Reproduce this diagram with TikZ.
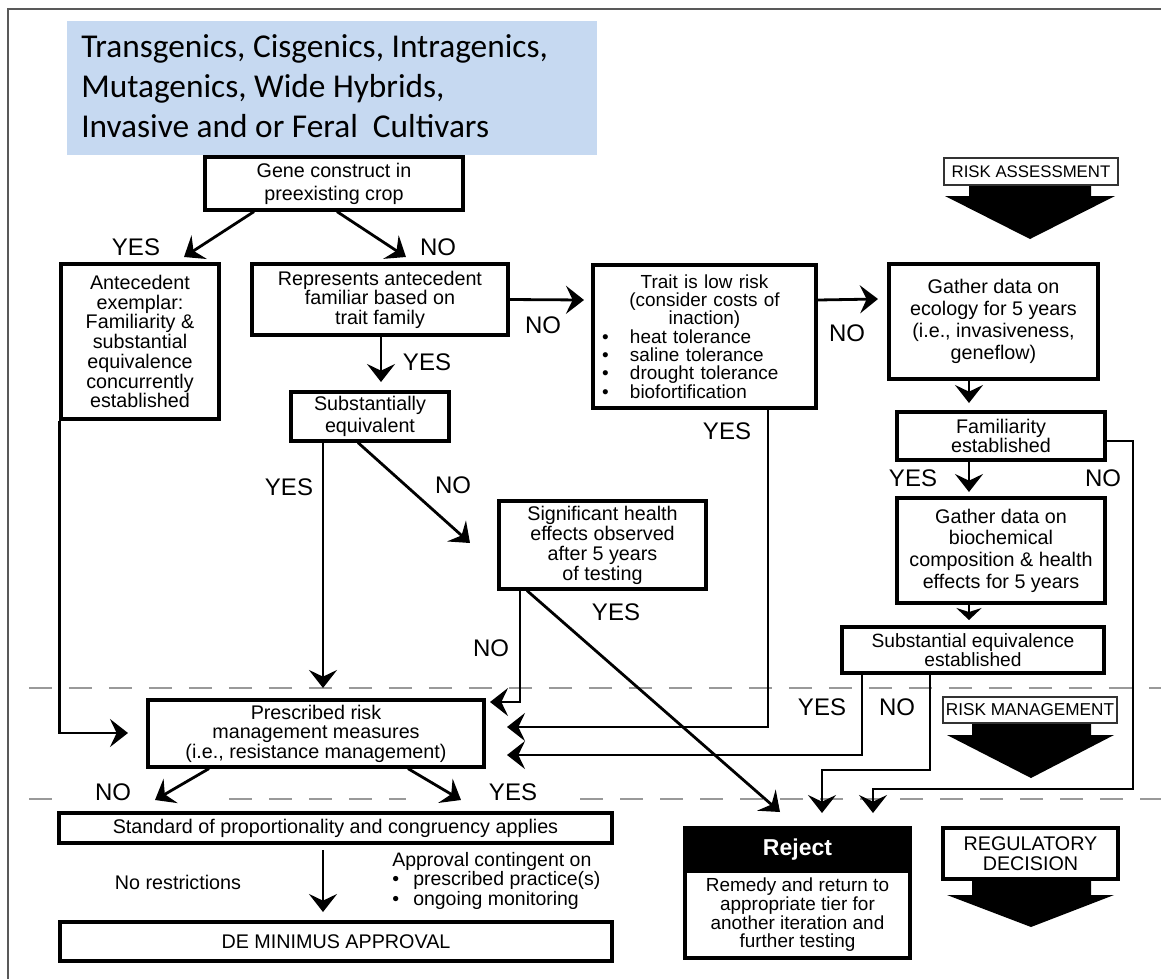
\documentclass[tikz,border=0pt]{standalone}
\usepackage{fontspec}
\setmainfont{Liberation Sans}
\newfontfamily\calibrifont{Carlito}
\usetikzlibrary{arrows.meta}
\definecolor{titleblue}{RGB}{198,217,241}

\begin{document}
\begin{tikzpicture}[x=0.75pt,y=0.75pt,yscale=-1,xscale=1,
  box/.style={draw, line width=2.4pt, inner sep=0pt, align=center, font=\fontsize{14.8pt}{#1}\selectfont},
  box/.default=15pt,
  arr/.style={line width=2.1pt, -{Stealth[length=13.5pt,width=21pt,inset=5pt]}},
  shortarr/.style={line width=2.1pt, -{Stealth[length=9pt,width=19pt,inset=3pt]}},
  lbl/.style={inner sep=0pt, font=\fontsize{18pt}{18pt}\selectfont},
  dashline/.style={draw=black!40, line width=1.7pt, dash pattern=on 17pt off 13pt}]
\useasboundingbox (0,0) rectangle (1161,979);

%Straight Lines: frame
\draw[black!65, line width=1.5pt] (8,979) -- (8,9) -- (1161,9) ;
%Straight Lines: tier borders
\draw[dashline] (29,688) -- (1161,688) ;
\draw[dashline] (29,799) -- (52,799) ;
\draw[dashline] (229,799) -- (406,799) ;
\draw[dashline] (580,799) -- (1161,799) ;

%Shape: Rectangle (title)
\fill[titleblue] (67,21) rectangle (597,155) ;
% Text Node
\node[anchor=north west, inner sep=0pt, align=left, font=\calibrifont\fontsize{25pt}{30pt}\selectfont] (title) at (81,34) {Transgenics, Cisgenics, Intragenics,\\Mutagenics, Wide Hybrids,\\Invasive and or Feral~ Cultivars};

%Shape: Boxes
\node[box=17.25pt, minimum width=193.5pt, minimum height=39.75pt] (gene) at (334,183.5) {Gene construct in\\preexisting crop};
\node[box=14.8pt, minimum width=118.5pt, minimum height=116.25pt] (ante) at (140,341.5) {Antecedent\\exemplar:\\Familiarity \&\\substantial\\equivalence\\concurrently\\established};
\node[box=14.6pt, minimum width=192pt, minimum height=53.25pt] (repr) at (380,299.5) {Represents antecedent\\familiar based on\\trait family};
\node[box=16.5pt, minimum width=118.5pt, minimum height=36.75pt] (subst) at (370,416.5) {Substantially\\equivalent};
\node[box=13.2pt, minimum width=167.25pt, minimum height=107.25pt, text width=153.75pt, font=\fontsize{14.2pt}{13.2pt}\selectfont] (trait) at (704.5,336.5) {\centering Trait is low risk\\(consider costs of\\inaction)\par\raggedright\makebox[21pt][l]{\textbullet}heat tolerance\\\makebox[21pt][l]{\textbullet}saline tolerance\\\makebox[21pt][l]{\textbullet}drought tolerance\\\makebox[21pt][l]{\textbullet}biofortification\par};
\node[box=16.5pt, minimum width=156.75pt, minimum height=86.25pt] (eco) at (993.5,321.5) {Gather data on\\ecology for 5 years\\(i.e., invasiveness,\\geneflow)};
\node[box=14.6pt, minimum width=156pt, minimum height=36pt] (famil) at (1001,436) {Familiarity\\established};
\node[box=16.3pt, minimum width=156pt, minimum height=78.75pt] (bioch) at (1001,550.5) {Gather data on\\biochemical\\composition \& health\\effects for 5 years};
\node[box=13.5pt, minimum width=196.5pt, minimum height=34.5pt, font=\fontsize{14.4pt}{13.4pt}\selectfont] (subeq) at (973,650) {Substantial equivalence\\established};
\node[box=15pt, minimum width=155.25pt, minimum height=66pt] (signif) at (602.5,545) {Significant health\\effects observed\\after 5 years\\of testing};
\node[box=14.6pt, minimum width=252pt, minimum height=50.25pt] (presc) at (316,733.5) {Prescribed risk\\management measures\\(i.e., resistance management)};
\node[box, minimum width=414.75pt, minimum height=22.5pt] (stand) at (335.5,828) {Standard of proportionality and congruency applies};
\node[box, minimum width=414pt, minimum height=29.25pt] (demin) at (336,941.5) {DE MINIMUS APPROVAL};
\node[box, fill=black, text=white, minimum width=168.75pt, minimum height=32.25pt, font=\bfseries\fontsize{17.25pt}{17.25pt}\selectfont] (rejhead) at (797.5,849.5) {Reject};
\node[box, minimum width=168.75pt, minimum height=65.25pt, font=\fontsize{14.2pt}{13.2pt}\selectfont] (rejbody) at (797.5,914.5) {Remedy and return to\\appropriate tier for\\another iteration and\\further testing};

%Shape: Tier markers
\fill (969,185) -- (1091,185) -- (1091,196) -- (1115,196) -- (1030,239) -- (945,196) -- (969,196) -- cycle ;
\fill (972,723) -- (1091,723) -- (1091,735) -- (1114,735) -- (1031,778) -- (947,735) -- (972,735) -- cycle ;
\fill (972,879) -- (1091,879) -- (1091,895) -- (1114,895) -- (1031,927) -- (947,895) -- (972,895) -- cycle ;
\node[box, fill=white, draw=black!80, line width=1.6pt, minimum width=130.5pt, minimum height=20.25pt, font=\fontsize{12.6pt}{13pt}\selectfont] (riskassess) at (1031,171.5) {RISK ASSESSMENT};
\node[box, fill=white, draw=black!80, line width=1.6pt, minimum width=130.5pt, minimum height=19.5pt, font=\fontsize{12.9pt}{13pt}\selectfont] (riskmgmt) at (1030,710) {RISK MANAGEMENT};
\node[box=15pt, fill=white, minimum width=131.25pt, minimum height=38.25pt] (regdec) at (1030.5,853.5) {REGULATORY\\DECISION};

%Free ends of connectors
\coordinate (anteTip) at (184,257) ;
\coordinate (reprTip) at (406,257) ;
\coordinate (traitTip) at (584,300) ;
\coordinate (substTip) at (381,382) ;
\coordinate (prescTopTip) at (323,688) ;
\coordinate (signifTip) at (470,543) ;
\coordinate (ecoTip) at (878,299) ;
\coordinate (familTip) at (969,403) ;
\coordinate (biochTip) at (969,492) ;
\coordinate (subeqTip) at (969,620) ;
\coordinate (prescTipN) at (490,702) ;
\coordinate (prescTipA) at (507,727) ;
\coordinate (prescTipB) at (507,755) ;
\coordinate (prescTipL) at (128,733) ;
\coordinate (rejTipA) at (780,812) ;
\coordinate (rejTipB) at (822,813) ;
\coordinate (rejTipC) at (873,813) ;
\coordinate (standTipN) at (155,800) ;
\coordinate (standTipY) at (461,800) ;
\coordinate (deminTip) at (323,912) ;

%Straight Lines: connectors
\draw[arr] (254,0 |- gene.south) -- (anteTip) ;
\draw[arr] (337,0 |- gene.south) -- (reprTip) ;
\draw[arr] (repr.east) -- (traitTip) ;
\draw[arr] (381,0 |- repr.south) -- (substTip) ;
\draw[arr] (323,0 |- subst.south) -- (prescTopTip) ;
\draw[arr] (358,0 |- subst.south) -- (signifTip) ;
\draw[arr] (trait.east |- traitTip) -- (ecoTip) ;
\draw[arr] (969,0 |- eco.south) -- (familTip) ;
\draw[arr] (969,0 |- famil.south) -- (biochTip) ;
\draw[shortarr] (969,0 |- bioch.south) -- (subeqTip) ;
\draw[arr] (famil.east |- 0,441) -- (1133,441) |- (873,789) -- (rejTipC) ;
\draw[arr] (862,0 |- subeq.south) |- (prescTipB) ;
\draw[arr] (930,0 |- subeq.south) -- (930,770) -| (rejTipB) ;
\draw[arr] (768,0 |- trait.south) |- (prescTipA) ;
\draw[arr] (520,0 |- signif.south) |- (prescTipN) ;
\draw[arr] (527,0 |- signif.south) -- (rejTipA) ;
\draw[arr] (ante.south west) |- (prescTipL) ;
\draw[arr] (209,0 |- presc.south) -- (standTipN) ;
\draw[arr] (408,0 |- presc.south) -- (standTipY) ;
\draw[arr] (323,850) -- (deminTip) ;

% Text Node
\node[lbl] (yes1) at (136,247) {YES};
\node[lbl] (no1) at (438,247) {NO};
\node[lbl] (no2) at (543,325) {NO};
\node[lbl] (yes2) at (427,362) {YES};
\node[lbl] (yes3) at (289,487) {YES};
\node[lbl] (no3) at (453,485) {NO};
\node[lbl] (no4) at (847,333) {NO};
\node[lbl] (yes4) at (727,431) {YES};
\node[lbl] (yes5) at (913,478) {YES};
\node[lbl] (no5) at (1103,478) {NO};
\node[lbl] (yes6) at (616,612) {YES};
\node[lbl] (no6) at (491,648) {NO};
\node[lbl] (yes7) at (822,707) {YES};
\node[lbl] (no7) at (897,707) {NO};
\node[lbl] (no8) at (113,792) {NO};
\node[lbl] (yes8) at (513,792) {YES};
% Text Node
\node[inner sep=0pt, font=\fontsize{14.8pt}{15pt}\selectfont] (norestr) at (178,882) {No restrictions};
% Text Node
\node[anchor=west, inner sep=0pt, align=left, font=\fontsize{14.6pt}{13.4pt}\selectfont] (approval) at (392,880.5) {Approval contingent on\\\makebox[15.75pt][l]{\textbullet}prescribed practice(s)\\\makebox[15.75pt][l]{\textbullet}ongoing monitoring};
\end{tikzpicture}
\end{document}
